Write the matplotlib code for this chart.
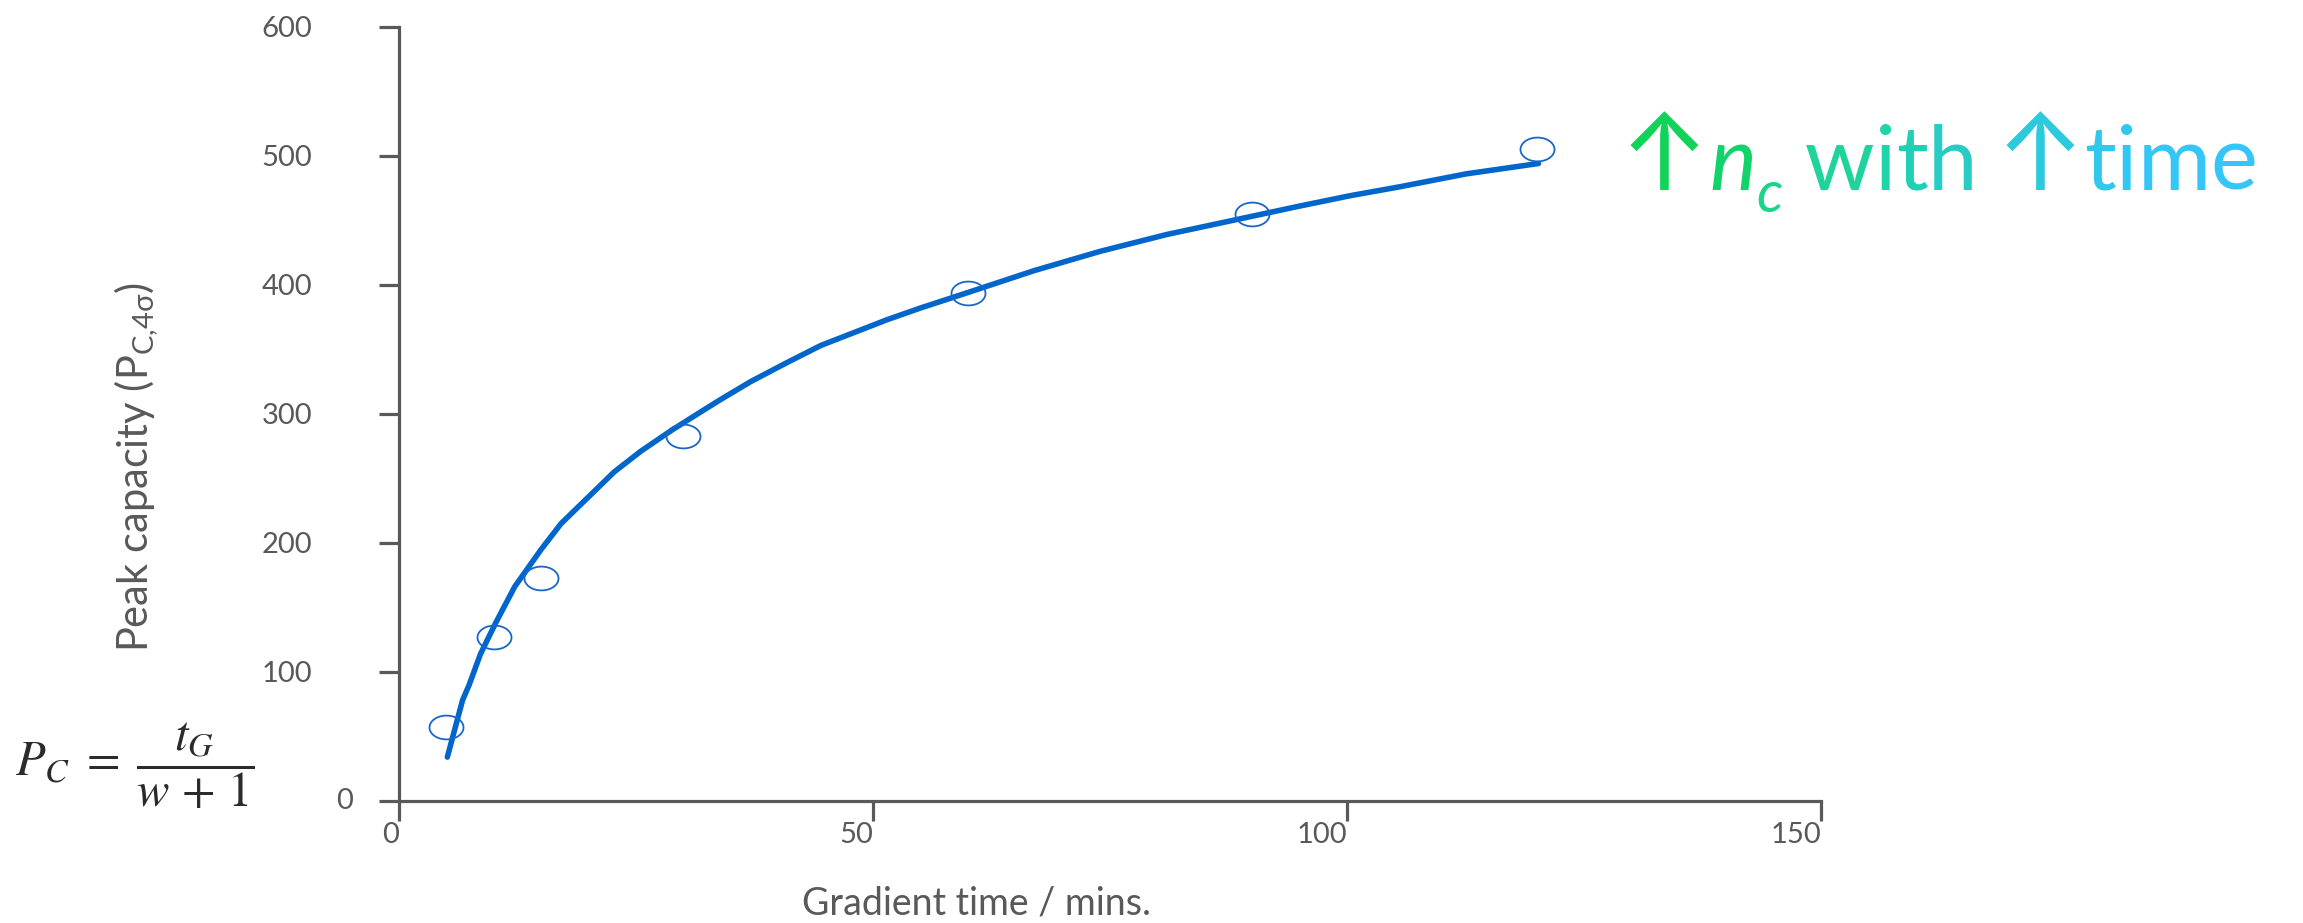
import matplotlib
matplotlib.use("Agg")
import numpy as np
import matplotlib.pyplot as plt
from matplotlib.path import Path
from matplotlib.markers import MarkerStyle

plt.rcParams['font.family'] = ['Lato', 'DejaVu Sans']
plt.rcParams['mathtext.fontset'] = 'custom'
plt.rcParams['mathtext.rm'] = 'Lato'
plt.rcParams['mathtext.it'] = 'Lato:italic'
plt.rcParams['mathtext.fallback'] = 'stixsans'

# Fitted peak-capacity curve
gradient_time_fit = [5.1, 6.7, 7.4, 8.6, 10.2, 12.2, 15.0, 17.1, 19.9, 22.7,
                     25.5, 28.7, 31.5, 33.9, 37.1, 41.0, 44.5, 48.0, 51.5, 55.0,
                     60.0, 67.0, 74.0, 81.0, 88.0, 95.0, 100.3, 105.6, 112.6, 120.2]
peak_capacity_fit = [34, 78, 90, 114, 138, 166, 195, 215, 235, 255,
                     271, 287, 300, 311, 325, 340, 353, 363, 373, 382,
                     394, 411, 426, 439, 450, 461, 469, 476, 486, 494]

# Measured peak capacities
gradient_time_meas = [5, 10, 15, 30, 60, 90, 120]
peak_capacity_meas = [57, 127, 173, 283, 394, 455, 505]

x_ticks = [0, 50, 100, 150]
y_ticks = [0, 100, 200, 300, 400, 500, 600]

AXIS_GREY = '#595959'
LINE_BLUE = '#0066cc'
MARK_BLUE = '#1a66c8'

W, H = 2303, 923
fig = plt.figure(figsize=(W / 100, H / 100), dpi=100)
ax = fig.add_axes([399 / W, 1 - 801 / H, (1821 - 399) / W, (801 - 26.7) / H])

ax.plot(gradient_time_fit, peak_capacity_fit, color=LINE_BLUE, lw=4,
        solid_capstyle='round', solid_joinstyle='round', zorder=2, clip_on=False)

# open elliptical marker, wider than tall
theta = np.linspace(0, 2 * np.pi, 73)
ellipse = Path(np.column_stack([np.cos(theta), 0.7 * np.sin(theta)]), closed=True)
ax.plot(gradient_time_meas, peak_capacity_meas, ls='none',
        marker=MarkerStyle(ellipse), ms=24.5, mfc='none', mec=MARK_BLUE,
        mew=1.3, zorder=3, clip_on=False)

ax.set_xlim(0, 150)
ax.set_ylim(0, 600)
for side in ('top', 'right'):
    ax.spines[side].set_visible(False)
for side in ('left', 'bottom'):
    ax.spines[side].set_color(AXIS_GREY)
    ax.spines[side].set_linewidth(2.3)

ax.set_xticks(x_ticks)
ax.set_xticklabels([str(v) for v in x_ticks], ha='right')
ax.set_yticks(y_ticks)
ax.set_yticklabels(['' if v == 0 else str(v) for v in y_ticks])
ax.tick_params(axis='both', direction='out', length=14.4, width=2.3,
               color=AXIS_GREY, labelcolor=AXIS_GREY, labelsize=21)
ax.tick_params(axis='x', pad=1)
ax.tick_params(axis='y', pad=48)
ax.annotate('0', xy=(0, 0), xycoords=('axes fraction', 'data'),
            xytext=(-46.4 * 0.72, 0), textcoords='offset points',
            ha='right', va='center', fontsize=21, color=AXIS_GREY,
            annotation_clip=False)

fig.text(977 / W, 1 - 903 / H, 'Gradient time / mins.', ha='center',
         va='center', fontsize=27, color=AXIS_GREY)
fig.text(137 / W, 1 - 467 / H, r'Peak capacity (P$_{\mathrm{C{,}4σ}}$)',
         rotation=90, ha='center', va='center', fontsize=30, color=AXIS_GREY)

fig.text(15 / W, 1 - 766 / H, r'$P_C\;=\;\dfrac{t_G}{w\,+\,1}$',
         math_fontfamily='stix', fontsize=35, ha='left', va='center',
         color='#2b2b2b')

# headline, coloured piece by piece from green to cyan
FS = 64
AFS = FS * 1.2
ARROW_FONT = ['Inter', 'Noto Sans CJK SC', 'DejaVu Sans']
base_y = H - 190
# (text, colour, size, style, x gap in points, baseline drop in px, family)
pieces = [
    ('↑', '#12d35a', AFS, 'normal', 0, 0, ARROW_FONT),
    ('n', '#10d46a', FS, 'italic', 0, 0, None),
    ('c', '#1cd488', FS * 0.65, 'italic', 0, -22, None),
    (' w', '#1ed49c', FS, 'normal', 0, 0, None),
    ('i', '#1ed4aa', FS, 'normal', 0, 0, None),
    ('t', '#20d0b4', FS, 'normal', 0, 0, None),
    ('h', '#28ccc4', FS, 'normal', 0, 0, None),
    ('↑', '#2ccadc', AFS, 'normal', 13, 0, ARROW_FONT),
    ('t', '#30c8ec', FS, 'normal', 0, 0, None),
    ('i', '#30c8f2', FS, 'normal', 0, 0, None),
    ('m', '#33c6f6', FS, 'normal', 0, 0, None),
    ('e', '#35c5fa', FS, 'normal', 0, 0, None),
]
prev = None
for txt, col, size, style, dx, dy, fam in pieces:
    kw = dict(ha='left', va='baseline', fontsize=size, color=col, style=style,
              annotation_clip=False, xytext=(dx, 0), textcoords='offset points')
    if fam is not None:
        kw['family'] = fam
    if prev is None:
        prev = ax.annotate(txt, xy=(1620, base_y), xycoords='figure pixels', **kw)
    else:
        prev = ax.annotate(txt, xy=(1, base_y + dy),
                           xycoords=(prev, 'figure pixels'), **kw)

fig.savefig('out.png', dpi=100)
